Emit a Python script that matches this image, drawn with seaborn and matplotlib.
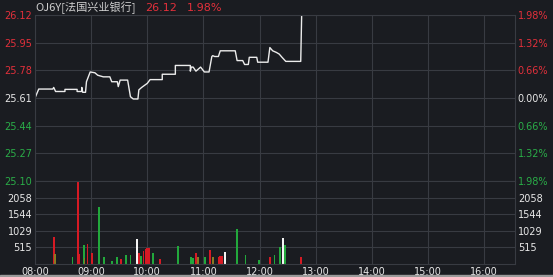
import matplotlib
matplotlib.use("Agg")
import matplotlib.pyplot as plt
import seaborn as sns
import pandas as pd
import numpy as np

# ---- data ----
title_code = "OJ6Y[法国兴业银行]"
last_price = "26.12"
last_change = "1.98%"

# price line: minutes since 08:00, price
price_minutes = [0, 4, 19, 20, 22, 32, 32, 45, 45, 50, 50, 51, 54, 55, 59, 64, 67, 73, 80, 82, 88, 89, 91, 99, 102, 105, 110, 111,
                 114, 120, 123, 123, 136, 136, 150, 150, 166, 166, 167, 169, 172, 177, 181, 186, 189, 190, 192, 196, 198,
                 214, 216, 222, 224, 228, 229, 237, 238, 249, 251, 254, 258, 261, 264, 268, 284, 285]
price_values = [25.61, 25.665, 25.665, 25.675, 25.65, 25.65, 25.663, 25.663, 25.65, 25.65, 25.675, 25.645, 25.645, 25.71,
                25.77, 25.765, 25.75, 25.74, 25.74, 25.71, 25.71, 25.68, 25.72, 25.72, 25.618, 25.604, 25.604, 25.66,
                25.675, 25.70, 25.723, 25.723, 25.723, 25.756, 25.756, 25.81, 25.81, 25.775, 25.80, 25.80, 25.775, 25.80,
                25.77, 25.77, 25.865, 25.87, 25.865, 25.865, 25.90, 25.90, 25.84, 25.84, 25.816, 25.816, 25.86, 25.86,
                25.83, 25.83, 25.92, 25.90, 25.89, 25.88, 25.86, 25.835, 25.835, 26.12]

# volume bars: minutes since 08:00, volume, direction
vol_minutes = [20, 21, 40, 46, 47, 52, 53, 56, 61, 68, 74, 82, 87, 88, 92, 97, 102, 109, 111, 113, 116, 118, 120, 122,
               126, 134, 153, 167, 169, 172, 174, 182, 187, 190, 196, 198, 200, 203, 216, 225, 239, 251, 256, 262,
               265, 267, 284]
vol_values = [830, 310, 210, 2572, 300, 590, 200, 620, 330, 1760, 210, 80, 210, 210, 170, 280, 280, 770, 330, 250, 400,
              450, 500, 500, 330, 170, 560, 230, 200, 350, 220, 210, 440, 220, 230, 240, 250, 380, 1100, 280, 120,
              220, 290, 520, 820, 580, 210]
vol_dirs = ["up", "flat", "down", "up", "up", "down", "flat", "up", "up", "down", "down", "down", "down", "down", "up",
            "down", "down", "white", "up", "down", "up", "up", "up", "up", "down", "up", "down", "down", "down", "up",
            "flat", "down", "up", "flat", "up", "up", "up", "white", "down", "down", "down", "up", "down", "down",
            "white", "down", "up"]

price_ticks = [25.10, 25.27, 25.44, 25.61, 25.78, 25.95, 26.12]
pct_labels = ["1.98%", "1.32%", "0.66%", "0.00%", "0.66%", "1.32%", "1.98%"]
vol_ticks = [515, 1029, 1544, 2058]
time_labels = ["08:00", "09:00", "10:00", "11:00", "12:00", "13:00", "14:00", "15:00", "16:00"]

# ---- style ----
BG = "#1a1c21"
GRID = "#383b42"
RED = "#e3303b"
GREEN = "#2aad48"
WHITE = "#e8e8e8"
bar_colors = {"up": "#d61a24", "down": "#22a83c", "white": "#f4f4f4", "flat": "#8a7a22"}

sns.set_theme(style="dark")
plt.rcParams["font.family"] = ["DejaVu Sans"]

fig = plt.figure(figsize=(5.53, 2.77), dpi=100, facecolor=BG)
L, W = 35 / 553, 480 / 553
ax = fig.add_axes([L, 1 - 181 / 277, W, (181 - 15) / 277])
axv = fig.add_axes([L, 1 - 264 / 277, W, (264 - 181) / 277])

xmax = 513
for a in (ax, axv):
    a.set_facecolor(BG)
    a.set_xlim(0, xmax)
    a.set_xticks([i * 60 for i in range(len(time_labels))])
    a.grid(True, color=GRID, linewidth=0.8)
    for s in a.spines.values():
        s.set_color(GRID)
        s.set_linewidth(0.8)
    a.tick_params(length=0, pad=2)

df = pd.DataFrame({"t": price_minutes, "p": price_values})
sns.lineplot(data=df, x="t", y="p", ax=ax, color="#ececec", linewidth=1.0, sort=False, estimator=None)
ax.set_ylim(price_ticks[0], price_ticks[-1])
ax.set_yticks(price_ticks)
ax.set_yticklabels([f"{v:.2f}" for v in price_ticks], fontsize=7)
ax.set_xticklabels([])
ax.set_xlabel("")
ax.set_ylabel("")
tick_cols = [GREEN, GREEN, GREEN, WHITE, RED, RED, RED]
for lbl, c in zip(ax.get_yticklabels(), tick_cols):
    lbl.set_color(c)

axr = ax.twinx()
axr.set_ylim(price_ticks[0], price_ticks[-1])
axr.set_yticks(price_ticks)
axr.set_yticklabels(pct_labels, fontsize=7)
axr.tick_params(length=0, pad=2)
for s in axr.spines.values():
    s.set_visible(False)
for lbl, c in zip(axr.get_yticklabels(), tick_cols):
    lbl.set_color(c)

# draw taller bars first so short ones stay visible
order = np.argsort(vol_values)[::-1]
axv.bar([vol_minutes[i] for i in order], [vol_values[i] for i in order], width=1.9,
        color=[bar_colors[vol_dirs[i]] for i in order], linewidth=0)
axv.set_ylim(0, 2572)
axv.set_yticks(vol_ticks)
axv.set_yticklabels([str(v) for v in vol_ticks], fontsize=7, color=WHITE)
axv.set_xticklabels(time_labels, fontsize=7, color=WHITE)
axvr = axv.twinx()
axvr.set_ylim(0, 2572)
axvr.set_yticks(vol_ticks)
axvr.set_yticklabels([str(v) for v in vol_ticks], fontsize=7, color=WHITE)
axvr.tick_params(length=0, pad=2)
for s in axvr.spines.values():
    s.set_visible(False)

fig.text(35 / 553, 1 - 8 / 277, title_code, fontsize=8, color="#cfcfcf", va="center", ha="left",
         family=["Noto Sans CJK SC", "DejaVu Sans"])
fig.text(145 / 553, 1 - 8 / 277, last_price, fontsize=8, color=RED, va="center", ha="left")
fig.text(187 / 553, 1 - 8 / 277, last_change, fontsize=8, color=RED, va="center", ha="left")

# light strip along the bottom edge
fig.patches.append(plt.Rectangle((0, 0), 1, 2 / 277, transform=fig.transFigure, color="#9a9a9a", zorder=0))

fig.savefig("out.png", dpi=100, facecolor=BG)
